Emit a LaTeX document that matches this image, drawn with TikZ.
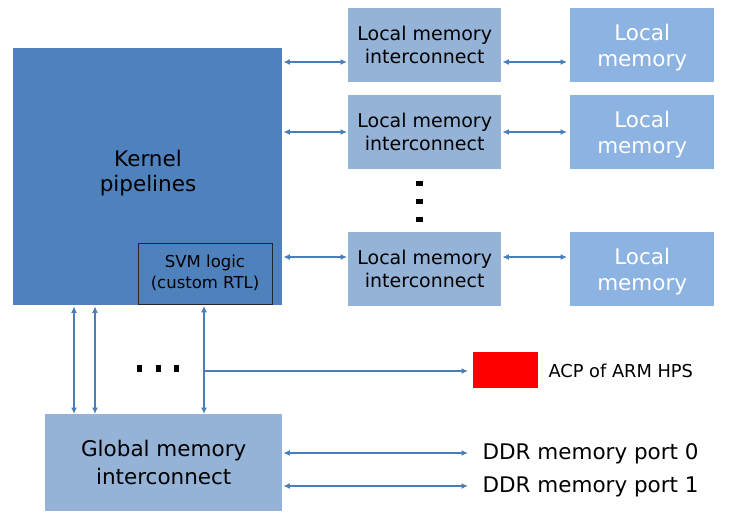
\documentclass[tikz,border=0pt]{standalone}
\usepackage{fontspec}
\setmainfont{DejaVu Sans}
\usetikzlibrary{arrows.meta,calc}
\definecolor{kern}{HTML}{4F81BD}
\definecolor{lmi}{HTML}{95B3D7}
\definecolor{lmem}{HTML}{8DB3E2}
\definecolor{arrc}{HTML}{4A7EBB}
\begin{document}
\begin{tikzpicture}[x=1pt,y=-1pt,
  box/.style={draw=none,inner sep=0pt,anchor=north west,align=center,text=black},
  arr/.style={draw=arrc,line width=1.6pt,{Latex[length=6.5pt,width=6pt]}-{Latex[length=6.5pt,width=6pt]}},
  sarr/.style={draw=arrc,line width=1.6pt,-{Latex[length=6.5pt,width=6pt]}},
  dotsq/.style={fill=black,draw=none}
]
\useasboundingbox (0,0) rectangle (729,523);
% kernel
\node[box,fill=kern,minimum width=269pt,minimum height=257pt] (k) at (13,48) {};
\node[font=\fontsize{21.5}{25}\selectfont,align=center] (kt) at (148,173) {Kernel\\pipelines};
\node[box,fill=kern,draw=black!85,line width=0.8pt,minimum width=134pt,minimum height=61pt] (svm) at (138,243) {};
\node[font=\fontsize{16.5}{21.5}\selectfont,align=center] (svmt) at (205,273) {SVM logic\\(custom RTL)};
% local memory interconnects
\foreach \i/\y in {1/8,2/95,3/232}{
  \node[box,fill=lmi,minimum width=153pt,minimum height=74pt] (lmi\i) at (348,\y) {};
  \node[font=\fontsize{19}{23}\selectfont,align=center] (lmit\i) at (lmi\i.center) {Local memory\\interconnect};
  \node[box,fill=lmem,minimum width=144pt,minimum height=74pt] (lm\i) at (570,\y) {};
  \node[font=\fontsize{21.5}{26}\selectfont,align=center,text=white] (lmt\i) at ([yshift=-2pt]lm\i.center) {Local\\memory};
}
% kernel <-> LMI arrows
\coordinate (a1) at (0,62);
\coordinate (a2) at (0,132);
\coordinate (a3) at (0,257);
\foreach \i in {1,2,3}{
  \draw[arr,shorten <=1pt,shorten >=1pt] (k.east |- a\i) -- (lmi\i.west |- a\i);
  \draw[arr,shorten <=1pt,shorten >=3pt] (lmi\i.east |- a\i) -- (lm\i.west |- a\i);
}
% vertical dots
\foreach \yy in {183,201,219}{
  \path[dotsq] (416,\yy-2.5) rectangle (423,\yy+2.5);
}
% global memory interconnect
\node[box,fill=lmi,minimum width=237pt,minimum height=97pt] (g) at (45,414) {};
\node[font=\fontsize{21.5}{28}\selectfont,align=center] (gt) at (g.center) {Global memory\\interconnect};
% vertical arrows
\coordinate (v1) at (74,0);
\coordinate (v2) at (95,0);
\coordinate (v3) at (204,0);
\draw[arr,shorten <=1pt] (k.south -| v1) -- (g.north -| v1);
\draw[arr,shorten <=1pt] (k.south -| v2) -- (g.north -| v2);
\draw[arr,shorten <=1pt] (svm.south -| v3) -- (g.north -| v3);
% horizontal dots
\foreach \xx in {139,158,176}{
  \path[dotsq] (\xx-2.5,365) rectangle (\xx+2.5,372);
}
% ACP
\node[box,fill=red,minimum width=65pt,minimum height=36pt] (acp) at (473,352) {};
\node[font=\fontsize{17.8}{20}\selectfont,anchor=west] (acpt) at (545,371) {ACP of ARM HPS};
\coordinate (h) at (204,371);
\draw[sarr,shorten >=5pt] (h) -- (acp.west |- h);
% DDR
\node[font=\fontsize{21.5}{24}\selectfont,anchor=west] (d0) at (479,454) {DDR memory port 0};
\node[font=\fontsize{21.5}{24}\selectfont,anchor=west] (d1) at (479,487) {DDR memory port 1};
\draw[arr,shorten <=1pt,shorten >=11pt] (g.east |- 0,453) -- (d0.west |- 0,453);
\draw[arr,shorten <=1pt,shorten >=11pt] (g.east |- 0,486) -- (d1.west |- 0,486);
\end{tikzpicture}
\end{document}
